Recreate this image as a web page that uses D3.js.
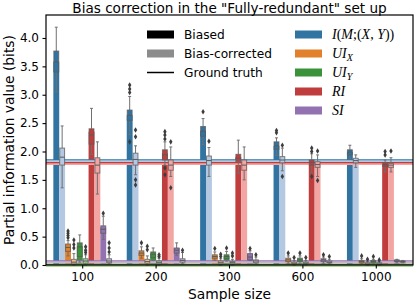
<!DOCTYPE html>
<html>
<head>
<meta charset="utf-8">
<script src="https://cdn.jsdelivr.net/npm/d3@7/dist/d3.min.js"></script>
<style>
body { margin: 0; background: #fff; }
text { font-family: "DejaVu Sans", sans-serif; }
</style>
</head>
<body>
<div id="chart"></div>
<script>
// sample sizes on the x axis
var sampleSizes = ["100", "200", "300", "600", "1000"];
var measures = ["I", "UIX", "UIY", "RI", "SI"];
var kinds = ["Biased", "Bias-corrected"];
var groundTruth = [1.84, 0.0, 0.0, 1.79, 0.06];
var yTicks = [0, 0.5, 1, 1.5, 2, 2.5, 3, 3.5, 4];

// one row per sample size: [mean, whiskerLow, q1, median, q3, whiskerHigh, outliers]
var iBiased = [
  [3.58, 3.05, 3.40, 3.58, 3.77, 4.19, []],
  [2.64, 2.30, 2.55, 2.64, 2.73, 2.97, [3.04, 3.10, 3.17, 2.17]],
  [2.36, 2.12, 2.27, 2.36, 2.44, 2.58, [2.70]],
  [2.10, 1.93, 2.04, 2.10, 2.17, 2.24, [2.33, 2.37]],
  [1.99, 1.87, 1.94, 1.99, 2.03, 2.11, []]
];
var iCorrected = [
  [1.88, 1.36, 1.76, 1.90, 2.06, 2.45, []],
  [1.86, 1.59, 1.76, 1.86, 1.97, 2.10, [2.26, 2.38, 1.50, 1.41]],
  [1.84, 1.56, 1.76, 1.84, 1.92, 2.07, [2.18]],
  [1.85, 1.66, 1.80, 1.85, 1.91, 2.06, [2.11, 1.56]],
  [1.84, 1.72, 1.80, 1.84, 1.88, 1.94, []]
];
var uixBiased = [
  [0.36, 0.16, 0.24, 0.31, 0.37, 0.43, [0.48, 0.52, 0.56, 0.60]],
  [0.22, 0.12, 0.17, 0.21, 0.25, 0.32, [0.39]],
  [0.16, 0.08, 0.12, 0.15, 0.18, 0.23, [0.29]],
  [0.10, 0.03, 0.06, 0.09, 0.12, 0.16, [0.21]],
  [0.06, 0.02, 0.04, 0.06, 0.08, 0.11, [0.16]]
];
var uixCorrected = [
  [0.07, 0.00, 0.02, 0.05, 0.10, 0.20, [0.30, 0.36, 0.44]],
  [0.08, 0.00, 0.03, 0.06, 0.10, 0.16, [0.27, 0.33]],
  [0.05, 0.00, 0.02, 0.04, 0.07, 0.11, [0.15, 0.19]],
  [0.04, 0.00, 0.02, 0.03, 0.05, 0.08, [0.13]],
  [0.03, 0.00, 0.01, 0.02, 0.04, 0.06, [0.10]]
];
var uiyBiased = [
  [0.33, 0.05, 0.15, 0.32, 0.39, 0.53, []],
  [0.20, 0.08, 0.13, 0.19, 0.23, 0.30, []],
  [0.16, 0.07, 0.11, 0.15, 0.18, 0.24, [0.30]],
  [0.10, 0.03, 0.06, 0.09, 0.12, 0.16, [0.21]],
  [0.06, 0.02, 0.04, 0.06, 0.08, 0.10, [0.15]]
];
var uiyCorrected = [
  [0.08, 0.00, 0.03, 0.07, 0.11, 0.18, [0.22, 0.26, 0.32]],
  [0.05, 0.00, 0.02, 0.04, 0.07, 0.12, [0.15, 0.18]],
  [0.05, 0.00, 0.02, 0.04, 0.06, 0.10, [0.16, 0.21]],
  [0.04, 0.00, 0.02, 0.03, 0.05, 0.08, [0.13]],
  [0.03, 0.00, 0.01, 0.02, 0.04, 0.06, [0.09]]
];
var riBiased = [
  [2.35, 1.95, 2.13, 2.29, 2.40, 2.76, []],
  [1.97, 1.76, 1.85, 1.94, 2.03, 2.17, [2.22, 2.29, 2.35, 1.71, 1.59]],
  [1.90, 1.62, 1.82, 1.88, 1.95, 2.20, []],
  [1.82, 1.62, 1.76, 1.81, 1.85, 1.96, [2.00, 2.06, 1.56]],
  [1.78, 1.64, 1.74, 1.77, 1.80, 1.85, [1.94, 2.00]]
];
var riCorrected = [
  [1.78, 1.25, 1.62, 1.76, 1.89, 2.17, []],
  [1.77, 1.56, 1.67, 1.76, 1.85, 2.08, [2.17, 1.36]],
  [1.76, 1.50, 1.67, 1.76, 1.85, 2.08, []],
  [1.77, 1.56, 1.72, 1.77, 1.82, 1.94, [2.01, 1.49]],
  [1.76, 1.64, 1.72, 1.76, 1.79, 1.89, [2.01]]
];
var siBiased = [
  [0.66, 0.45, 0.56, 0.63, 0.69, 0.86, [0.91]],
  [0.30, 0.17, 0.21, 0.26, 0.30, 0.39, []],
  [0.20, 0.08, 0.09, 0.14, 0.20, 0.25, [0.29]],
  [0.09, 0.03, 0.06, 0.09, 0.11, 0.14, [0.18]],
  [0.07, 0.04, 0.06, 0.07, 0.09, 0.10, []]
];
var siCorrected = [
  [0.10, 0.02, 0.04, 0.07, 0.11, 0.18, [0.23, 0.30, 0.39]],
  [0.10, 0.02, 0.05, 0.08, 0.11, 0.22, [0.26]],
  [0.08, 0.02, 0.04, 0.07, 0.09, 0.14, [0.18]],
  [0.06, 0.02, 0.04, 0.05, 0.07, 0.10, [0.15]],
  [0.06, 0.04, 0.05, 0.06, 0.07, 0.08, []]
];

var darkColors = ["#3274a1", "#e1812c", "#3a923a", "#c03d3e", "#9372b2"];
var lightColors = ["#b5c8e1", "#eebb89", "#9fd495", "#f2a5a3", "#c4b5d0"];

var statsBy = {
  I: [iBiased, iCorrected],
  UIX: [uixBiased, uixCorrected],
  UIY: [uiyBiased, uiyCorrected],
  RI: [riBiased, riCorrected],
  SI: [siBiased, siCorrected]
};

// flatten into rows for drawing
var rows = [];
sampleSizes.forEach(function (s, si) {
  measures.forEach(function (m, mi) {
    kinds.forEach(function (k, ki) {
      var r = statsBy[m][ki][si];
      rows.push({
        size: s, hue: m + "|" + k, mi: mi, ki: ki,
        mean: r[0], lo: r[1], q1: r[2], med: r[3], q3: r[4], hi: r[5], out: r[6],
        color: ki == 0 ? darkColors[mi] : lightColors[mi]
      });
    });
  });
});

var W = 415, H = 304;
var margin = { top: 15, right: 2, bottom: 39, left: 46 };
var width = W - margin.left - margin.right;
var height = H - margin.top - margin.bottom;

var svg = d3.select("#chart").append("svg")
  .attr("width", W)
  .attr("height", H);

var g = svg.append("g")
  .attr("transform", "translate(" + margin.left + "," + margin.top + ")");

var x = d3.scaleBand().domain(sampleSizes).range([0, width]).padding(0);
var hues = [];
measures.forEach(function (m) { kinds.forEach(function (k) { hues.push(m + "|" + k); }); });
var xh = d3.scaleBand().domain(hues)
  .range([x.bandwidth() * 0.1, x.bandwidth() * 0.9]).padding(0);
var y = d3.scaleLinear().domain([0, 4.405]).range([height, 0]);

// bars
g.selectAll(".bar")
  .data(rows)
  .enter().append("rect")
  .attr("x", function (d) { return x(d.size) + xh(d.hue); })
  .attr("width", xh.bandwidth())
  .attr("y", function (d) { return y(d.mean); })
  .attr("height", function (d) { return y(0) - y(d.mean); })
  .attr("fill", function (d) { return d.color; });

// ground truth lines
measures.forEach(function (m, i) {
  g.append("line")
    .attr("x1", 0).attr("x2", width)
    .attr("y1", y(groundTruth[i]) + 0.6).attr("y2", y(groundTruth[i]) + 0.6)
    .attr("stroke", lightColors[i]).attr("stroke-width", 2.2);
  g.append("line")
    .attr("x1", 0).attr("x2", width)
    .attr("y1", y(groundTruth[i]) - 0.8).attr("y2", y(groundTruth[i]) - 0.8)
    .attr("stroke", darkColors[i]).attr("stroke-width", 1.1);
});

// boxes
var bw = xh.bandwidth();
var box = g.selectAll(".box")
  .data(rows)
  .enter().append("g")
  .attr("transform", function (d) { return "translate(" + (x(d.size) + xh(d.hue)) + ",0)"; });

var whisk = "#707070";
box.append("line")
  .attr("x1", bw / 2).attr("x2", bw / 2)
  .attr("y1", function (d) { return y(d.hi); })
  .attr("y2", function (d) { return y(d.q3); })
  .attr("stroke", whisk).attr("stroke-width", 1);
box.append("line")
  .attr("x1", bw / 2).attr("x2", bw / 2)
  .attr("y1", function (d) { return y(d.q1); })
  .attr("y2", function (d) { return y(d.lo); })
  .attr("stroke", whisk).attr("stroke-width", 1);
box.append("line")
  .attr("x1", bw * 0.25).attr("x2", bw * 0.75)
  .attr("y1", function (d) { return y(d.hi); })
  .attr("y2", function (d) { return y(d.hi); })
  .attr("stroke", whisk).attr("stroke-width", 1);
box.append("line")
  .attr("x1", bw * 0.25).attr("x2", bw * 0.75)
  .attr("y1", function (d) { return y(d.lo); })
  .attr("y2", function (d) { return y(d.lo); })
  .attr("stroke", whisk).attr("stroke-width", 1);
box.append("rect")
  .attr("x", 0.5).attr("width", bw - 1)
  .attr("y", function (d) { return y(d.q3); })
  .attr("height", function (d) { return Math.max(0.5, y(d.q1) - y(d.q3)); })
  .attr("fill", function (d) { return d.color; })
  .attr("stroke", "#5a5a5a").attr("stroke-opacity", 0.75).attr("stroke-width", 1);
box.append("line")
  .attr("x1", 0.5).attr("x2", bw - 0.5)
  .attr("y1", function (d) { return y(d.med); })
  .attr("y2", function (d) { return y(d.med); })
  .attr("stroke", "#5a5a5a").attr("stroke-width", 1);

// outliers
box.selectAll(".flier")
  .data(function (d) { return d.out; })
  .enter().append("path")
  .attr("d", "M0,-2.8L1.7,0L0,2.8L-1.7,0Z")
  .attr("transform", function (v) { return "translate(" + (bw / 2) + "," + y(v) + ")"; })
  .attr("fill", "#3d3d3d");

// axes
var yAxis = g.append("g")
  .call(d3.axisLeft(y).tickValues(yTicks).tickFormat(d3.format(".1f")).tickSizeOuter(0).tickSize(3.5).tickPadding(3.5));
var xAxis = g.append("g")
  .attr("transform", "translate(0," + height + ")")
  .call(d3.axisBottom(x).tickSizeOuter(0).tickSize(3.5).tickPadding(3.5));
[xAxis, yAxis].forEach(function (a) {
  a.select(".domain").remove();
  a.selectAll("text").attr("font-size", 12).attr("fill", "#000")
    .style("font-family", "DejaVu Sans");
  a.selectAll("line").attr("stroke", "#000").attr("stroke-width", 1.1);
});

g.append("rect")
  .attr("width", width).attr("height", height)
  .attr("fill", "none").attr("stroke", "#000").attr("stroke-width", 1.2);

// titles
svg.append("text")
  .attr("x", margin.left + width / 2).attr("y", 12.5)
  .attr("text-anchor", "middle").attr("font-size", 13.6)
  .text('Bias correction in the "Fully-redundant" set up');
svg.append("text")
  .attr("x", margin.left + width / 2).attr("y", 299)
  .attr("text-anchor", "middle").attr("font-size", 13.8)
  .text("Sample size");
svg.append("text")
  .attr("transform", "translate(14," + (margin.top + height / 2) + ") rotate(-90)")
  .attr("text-anchor", "middle").attr("font-size", 13.8)
  .text("Partial information value (bits)");

// legend
var leg = svg.append("g");
var legRows = [34.5, 53.5, 72.5, 91.5, 110.5];
var kindSwatch = ["#000", "#8c8c8c"];
kinds.forEach(function (k, i) {
  leg.append("rect").attr("x", 147).attr("y", legRows[i] - 4).attr("width", 27).attr("height", 8)
    .attr("fill", kindSwatch[i]);
  leg.append("text").attr("x", 184).attr("y", legRows[i] + 4.5).attr("font-size", 12.2).text(k);
});
leg.append("line").attr("x1", 147).attr("x2", 174).attr("y1", legRows[2]).attr("y2", legRows[2])
  .attr("stroke", "#000").attr("stroke-width", 1.5);
leg.append("text").attr("x", 184).attr("y", legRows[2] + 4.5).attr("font-size", 12.2).text("Ground truth");

var mathLabels = [
  [["I", 1], ["(", 0], ["M", 1], [";", 0], ["(", 0], ["X", 1], [", ", 0], ["Y", 1], ["))", 0]],
  [["UI", 1], ["X", 2]],
  [["UI", 1], ["Y", 2]],
  [["RI", 1]],
  [["SI", 1]]
];
measures.forEach(function (m, i) {
  leg.append("rect").attr("x", 295).attr("y", legRows[i] - 4).attr("width", 27).attr("height", 8)
    .attr("fill", darkColors[i]);
  var t = leg.append("text").attr("x", 332).attr("y", legRows[i] + 4.5)
    .style("font-family", "'Liberation Serif', serif").attr("font-size", 14);
  mathLabels[i].forEach(function (p) {
    var s = t.append("tspan").text(p[0]);
    if (p[1] >= 1) s.attr("font-style", "italic");
    if (p[1] == 2) s.attr("font-size", 10).attr("dy", 3);
  });
});
</script>
</body>
</html>
